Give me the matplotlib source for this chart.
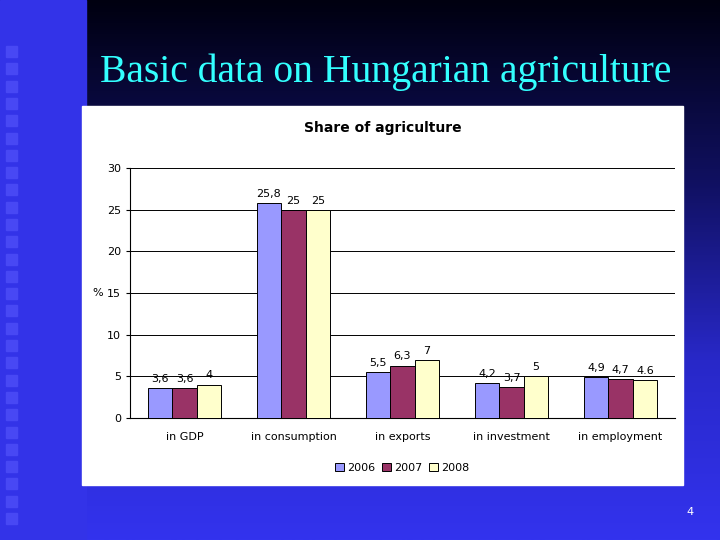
import matplotlib
matplotlib.use("Agg")
import matplotlib.pyplot as plt
import numpy as np
from matplotlib.patches import Rectangle

categories = ["in GDP", "in consumption", "in exports", "in investment", "in employment"]
v2006 = [3.6, 25.8, 5.5, 4.2, 4.9]
v2007 = [3.6, 25, 6.3, 3.7, 4.7]
v2008 = [4, 25, 7, 5, 4.6]
lab2006 = ["3,6", "25,8", "5,5", "4,2", "4,9"]
lab2007 = ["3,6", "25", "6,3", "3,7", "4,7"]
lab2008 = ["4", "25", "7", "5", "4.6"]
years = ["2006", "2007", "2008"]
colors = ["#9999ff", "#993366", "#ffffcc"]

W, H = 720, 540
fig = plt.figure(figsize=(7.2, 5.4), dpi=100)

# background
bg = fig.add_axes([0, 0, 1, 1]); bg.set_axis_off()
bg.set_xlim(0, W); bg.set_ylim(H, 0)
grad = np.linspace(0, 1, 256)[:, None]
from matplotlib.colors import LinearSegmentedColormap
cm = LinearSegmentedColormap.from_list("g", ["#000010", "#101060", "#2828c8", "#3333ee"])
bg.imshow(grad, cmap=cm, extent=[0, W, H, 0], aspect="auto")
bg.add_patch(Rectangle((0, 0), 86, H, color="#3333e8"))
for y in np.arange(46, 530, 17.3):
    bg.add_patch(Rectangle((6, y), 11, 11, color="#4848f4"))
bg.text(386, 72, "Basic data on Hungarian agriculture", color="#33ffff",
        fontsize=28.5, family="Liberation Serif", ha="center", va="center")
bg.text(690, 512, "4", color="white", fontsize=8, ha="center", va="center")
bg.add_patch(Rectangle((82, 106), 601, 379, color="white"))
bg.text(383, 128, "Share of agriculture", fontsize=10, weight="bold", ha="center", va="center")

ax = fig.add_axes([130/W, 1-418/H, 545/W, 250/H])
x = np.arange(len(categories))
w = 0.225
for i, (vals, labs) in enumerate(zip([v2006, v2007, v2008], [lab2006, lab2007, lab2008])):
    bars = ax.bar(x + (i-1)*w, vals, w, color=colors[i], edgecolor="black", linewidth=0.7,
                  label=years[i], zorder=3)
    for b, l in zip(bars, labs):
        ax.text(b.get_x()+b.get_width()/2, b.get_height()+0.5, l, ha="center",
                va="bottom", fontsize=8)
ax.set_xlim(-0.5, 4.5); ax.set_ylim(0, 30)
ax.set_yticks(range(0, 31, 5))
ax.grid(axis="y", color="black", linewidth=0.7, zorder=0)
ax.set_xticks(x); ax.set_xticklabels(categories, fontsize=8)
ax.tick_params(axis="y", labelsize=8, length=3)
ax.tick_params(axis="x", length=0, pad=10)
for s in ["top", "right"]:
    ax.spines[s].set_visible(False)
ax.set_ylabel("%", rotation=0, fontsize=8, labelpad=2)
ax.yaxis.set_label_coords(-0.06, 0.48)
ax.legend(loc="center", bbox_to_anchor=(0.5, -0.2), ncol=3, frameon=False,
          fontsize=8, handlelength=0.8, handleheight=0.8, columnspacing=0.6, handletextpad=0.3)
fig.savefig("out.png", dpi=100)
